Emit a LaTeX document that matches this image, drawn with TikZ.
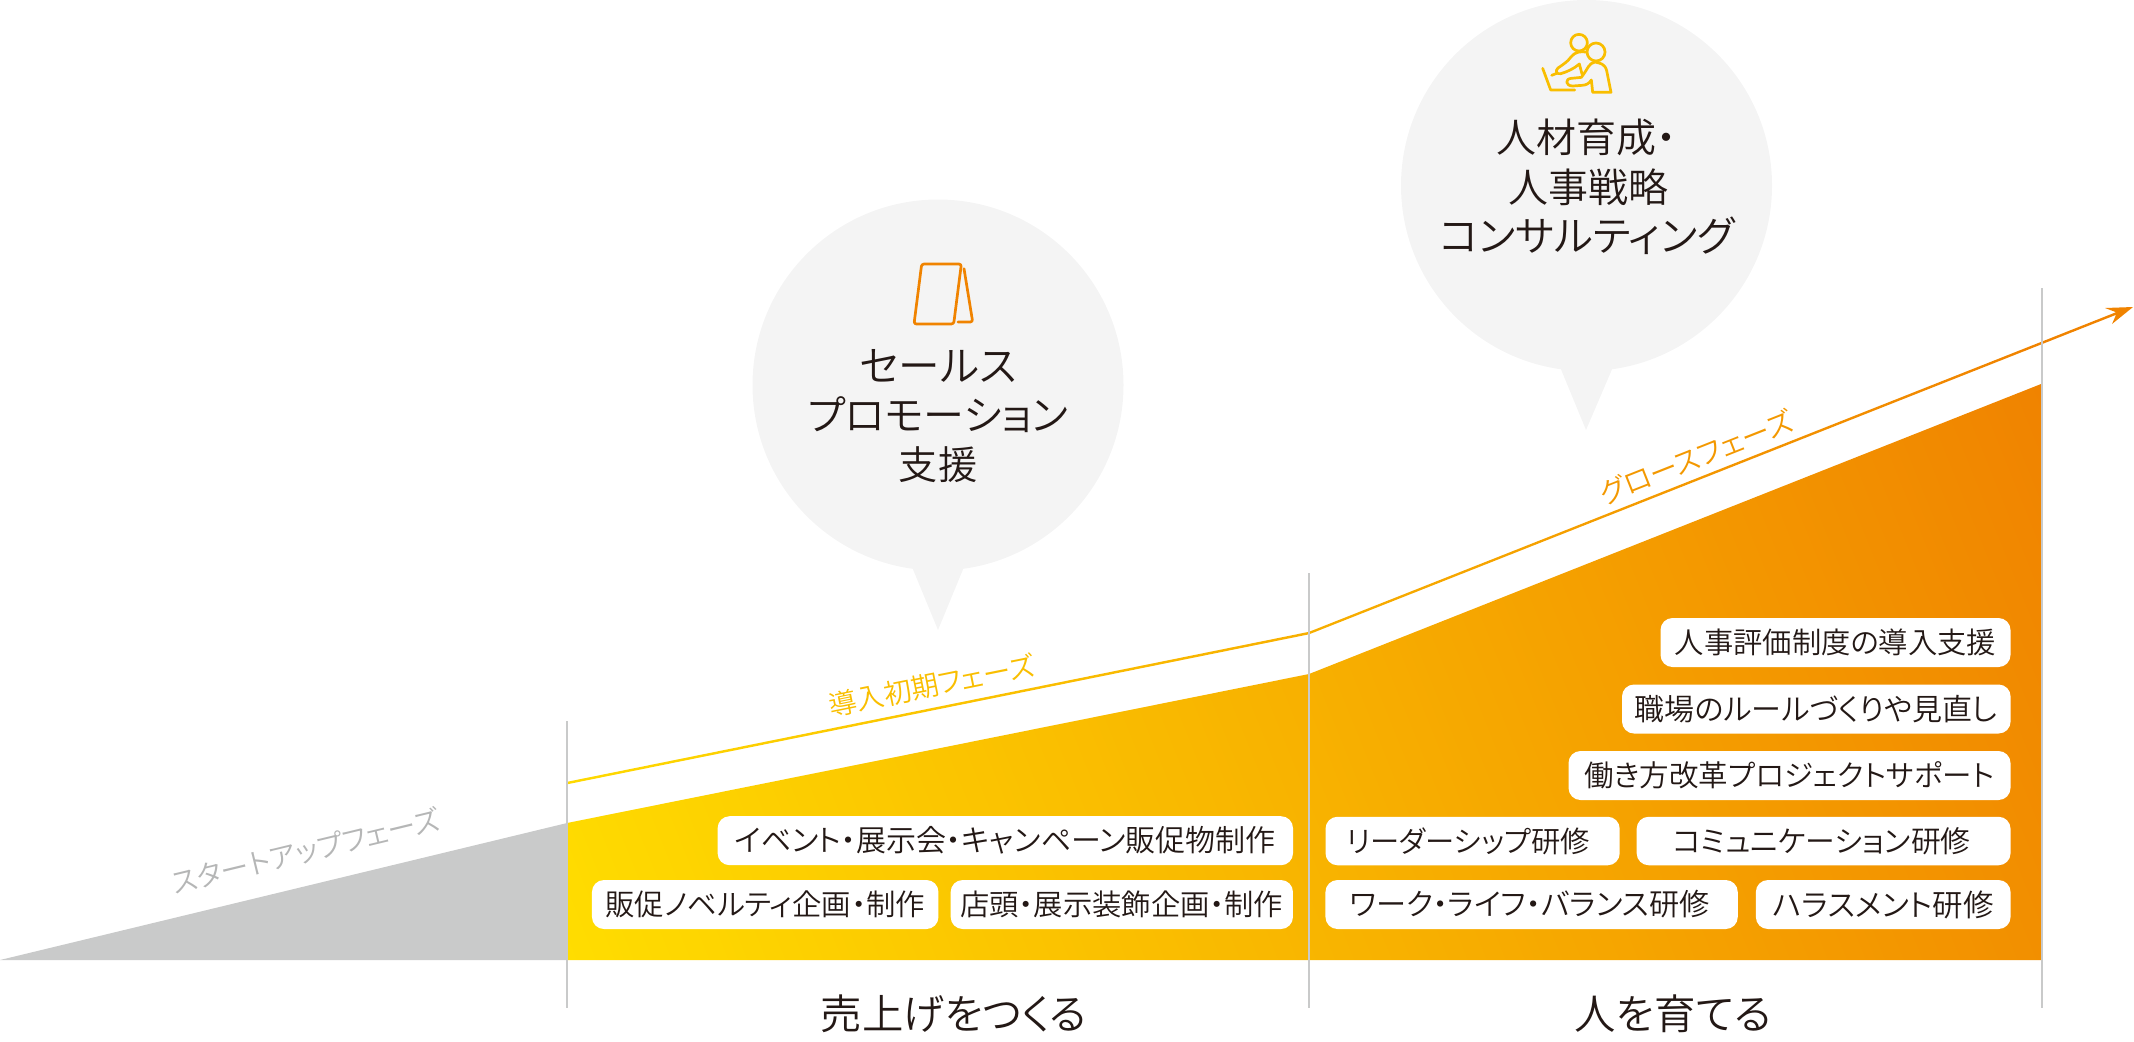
\documentclass[tikz,border=0pt]{standalone}
\usepackage{fontspec}
\newfontfamily\cjk[RawFeature=+palt]{Noto Sans CJK JP DemiLight}
\definecolor{ink}{HTML}{231815}
\definecolor{yel}{HTML}{FFDD00}
\definecolor{org}{HTML}{F08300}
\definecolor{bub}{HTML}{F4F4F4}
\definecolor{vline}{HTML}{C9CACA}
\definecolor{graytri}{HTML}{C9CACA}
\definecolor{grayt}{HTML}{B5B6B6}
\definecolor{midy}{HTML}{F9BE00}
\definecolor{laborg}{HTML}{F39800}
\pgfdeclarehorizontalshading{growth}{800bp}{color(0bp)=(yel); color(788bp)=(org); color(900bp)=(org)}
\tikzset{
  pill/.style n args={3}{fill=white,rounded corners=6pt,inner sep=0pt,text=ink,
    minimum width=#1*0.5pt,minimum height=#2*0.5pt,font=\cjk\fontsize{#3}{#3}\selectfont},
  bubtext/.style={text=ink,align=center,inner sep=0pt,font=\cjk\fontsize{#1}{25}\selectfont},
  base/.style={text=ink,inner sep=0pt,font=\cjk\fontsize{20.7}{20.7}\selectfont},
  phase/.style={inner sep=0pt,font=\cjk\fontsize{#1}{#1}\selectfont},
  guide/.style={draw=vline,line width=1pt},
  icon/.style={line width=1.35pt,line join=round,line cap=round,fill=none}
}
\begin{document}
\begin{tikzpicture}[x=0.5pt,y=-0.5pt]
\useasboundingbox (0,0) rectangle (2134,1041);
% gray startup wedge
\fill[graytri] (0,960) -- (567,823) -- (567,960) -- cycle;
% growth area
\begin{scope}
  \clip (567,823) -- (1309,674) -- (2041,384) -- (2041,960) -- (567,960) -- cycle;
  \node[inner sep=0pt,rotate=22] (areashade) at (1383,568) {\pgfuseshading{growth}};
\end{scope}
% growth line and arrow
\begin{scope}
  \clip (567,781.8) -- (1309,631.8) -- (2116,312.2) -- (2105,308) -- (2133,307) -- (2112,324) -- (2116,314.8) -- (1309,634.3) -- (567,784.3) -- cycle;
  \node[inner sep=0pt,rotate=22] (lineshade) at (1383,568) {\pgfuseshading{growth}};
\end{scope}
% guides
\coordinate (g1t) at (567,721); \coordinate (g1b) at (567,1008);
\coordinate (g2t) at (1309,573); \coordinate (g2b) at (1309,1008);
\coordinate (g3t) at (2041.5,288); \coordinate (g3b) at (2041.5,1008);
\draw[guide] (g1t) -- (g1b);
\draw[guide] (g2t) -- (g2b);
\draw[guide] (g3t) -- (g3b);
% bubbles
\fill[bub] (938,385) circle (185.5);
\fill[bub] (912,567) -- (938,630) -- (964,567) -- cycle;
\fill[bub] (1586.5,185.5) circle (185.5);
\fill[bub] (1560,367) -- (1586,430) -- (1613,367) -- cycle;
% notebook icon
\begin{scope}[shift={(740,200)},x=0.16667pt,y=-0.16667pt]
  \draw[icon,draw=org,rounded corners=1.2pt] (545,192) -- (664,192) -- (641,372) -- (522,372) -- cycle;
  \draw[icon,draw=org,rounded corners=1.2pt] (672,206) -- (698,366) -- (654,366);
\end{scope}
% people icon
\begin{scope}[shift={(1380,0)},x=0.16667pt,y=-0.16667pt]
  \draw[icon,draw=midy] (597,128) circle (25);
  \draw[icon,draw=midy] (648,156) circle (27);
  \draw[icon,draw=midy] (488,205) -- (512,270) -- (584,270);
  \draw[icon,draw=midy] (618,156) .. controls (600,154) and (585,155) .. (572,172) .. controls (562,186) and (548,194) .. (534,204) .. controls (524,212) and (530,224) .. (542,221) .. controls (560,216) and (582,206) .. (598,192) -- (606,222);
  \draw[icon,draw=midy] (515,226) -- (530,220);
  \draw[icon,draw=midy] (645,186) .. controls (660,190) and (674,190) .. (680,212) -- (693,277) -- (638,277) -- (634,240) .. controls (626,252) and (618,255) .. (606,256) -- (578,258) .. controls (556,258) and (554,236) .. (574,235) -- (604,232) .. controls (625,205) and (625,190) .. (645,186);
\end{scope}
% bubble text
\node[bubtext=20.8] (t1) at (938,366) {セールス};
\node[bubtext=20.5] (t2) at (938,415) {プロモーション};
\node[bubtext=19.6] (t3) at (938,465) {支援};
\node[bubtext=20] (t4) at (1586,137) {人材育成・};
\node[bubtext=20] (t5) at (1588,187) {人事戦略};
\node[bubtext=20.7] (t6) at (1587,236) {コンサルティング};
% phase labels
\node[phase=14.2,text=grayt,rotate=13.6] (p1) at (306,851) {スタートアップフェーズ};
\node[phase=13.9,text=midy,rotate=11.4] (p2) at (932,685) {導入初期フェーズ};
\node[phase=14.2,text=laborg,rotate=21.6] (p3) at (1696,457) {グロースフェーズ};
% pills
\node[pill={350}{49}{14.65}] (b1) at (1835.5,642.5) {人事評価制度の導入支援};
\node[pill={388.6}{49}{15}] (b2) at (1816.3,709) {職場のルールづくりや見直し};
\node[pill={442}{49}{14.75}] (b3) at (1789.5,775.5) {働き方改革プロジェクトサポート};
\node[pill={294.2}{48.5}{14.65}] (b4) at (1472.6,841) {リーダーシップ研修\hspace*{4.5pt}};
\node[pill={373.9}{48.5}{14.9}] (b5) at (1823.6,841) {コミュニケーション研修\hspace*{2pt}};
\node[pill={412.3}{49}{15.1}] (b6) at (1531.6,904.5) {ワーク・ライフ・バランス研修\hspace*{2pt}};
\node[pill={254.7}{49}{15.25}] (b7) at (1883.2,904.5) {ハラスメント研修};
\node[pill={575.4}{49}{15}] (b8) at (1005.3,840.7) {イベント・展示会・キャンペーン販促物制作};
\node[pill={346.5}{49}{14.7}] (b9) at (765.2,904.5) {販促ノベルティ企画・制作};
\node[pill={342.3}{49}{14.65}] (b10) at (1121.8,904.5) {店頭・展示装飾企画・制作};
% bottom labels
\node[base] (s1) at (953.5,1014) {売上げをつくる};
\node[base] (s2) at (1673,1014) {人を育てる};
\end{tikzpicture}
\end{document}
